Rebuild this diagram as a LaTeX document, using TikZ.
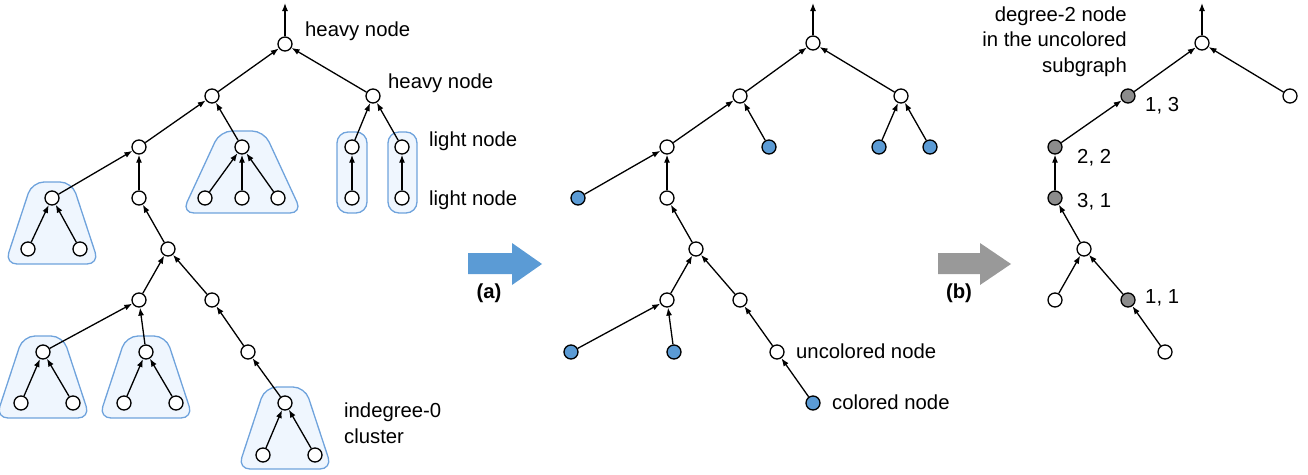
\documentclass[tikz,border=0pt]{standalone}
\usepackage{fontspec}
\setmainfont{Liberation Sans}
\usepackage{tikz}
\usetikzlibrary{arrows.meta}

\definecolor{nodeblue}{HTML}{5B9BD5}
\definecolor{nodegray}{HTML}{8C8C8C}
\definecolor{clusterfill}{HTML}{EFF6FE}
\definecolor{clusterline}{HTML}{6FA3DC}
\definecolor{arrowgray}{HTML}{999999}

\begin{document}
\begin{tikzpicture}[x=1pt,y=-1pt,
    vtx/.style={circle,draw,line width=1.3pt,fill=white,minimum size=14pt,inner sep=0pt},
    cvtx/.style={vtx,fill=nodeblue},
    gvtx/.style={vtx,fill=nodegray},
    edge/.style={line width=1.3pt,-{Latex[length=8pt,width=6pt]}},
    cluster/.style={draw=clusterline,fill=clusterfill,line width=1.3pt,rounded corners=12pt},
    lbl/.style={inner sep=0pt,font=\fontsize{20.3}{25.5}\selectfont}]
  \useasboundingbox (0,0) rectangle (1308,474);

  % left: clusters first
  \foreach \x/\y in {52/198, 43/352, 146/352, 285/403}
    \draw[cluster] (\x-20,\y-16) -- (\x+20,\y-16) -- (\x+47,\y+66) -- (\x-47,\y+66) -- cycle;
  \draw[cluster] (220,131) -- (264,131) -- (302,213) -- (182,213) -- cycle;
  \draw[cluster,rounded corners=11pt] (337,132) rectangle (367,213);
  \draw[cluster,rounded corners=11pt] (388,132) rectangle (417,213);

  % left tree
  \coordinate (ltop) at (285,3);
  \node[vtx] (lr) at (285,44) {};
  \node[vtx] (la) at (212,96) {};
  \node[vtx] (lb) at (373,96) {};
  \node[vtx] (lc) at (139,147) {};
  \node[vtx] (ld) at (242,147) {};
  \node[vtx] (ld1) at (205,198) {};
  \node[vtx] (ld2) at (242,198) {};
  \node[vtx] (ld3) at (278,198) {};
  \node[vtx] (lb1) at (352,147) {};
  \node[vtx] (lb2) at (402,147) {};
  \node[vtx] (lb1c) at (352,198) {};
  \node[vtx] (lb2c) at (402,198) {};
  \node[vtx] (le) at (52,198) {};
  \node[vtx] (le1) at (28,249) {};
  \node[vtx] (le2) at (80,249) {};
  \node[vtx] (lf) at (139,198) {};
  \node[vtx] (lg) at (168,249) {};
  \node[vtx] (lh) at (139,300) {};
  \node[vtx] (li) at (212,300) {};
  \node[vtx] (lj) at (43,352) {};
  \node[vtx] (lj1) at (21,403) {};
  \node[vtx] (lj2) at (73,403) {};
  \node[vtx] (lk) at (146,352) {};
  \node[vtx] (lk1) at (124,403) {};
  \node[vtx] (lk2) at (176,403) {};
  \node[vtx] (ll) at (248,352) {};
  \node[vtx] (lm) at (285,403) {};
  \node[vtx] (lm1) at (263,455) {};
  \node[vtx] (lm2) at (315,455) {};
  \draw[edge] (lr) -- (ltop);
  \foreach \c/\p in {la/lr, lb/lr, lc/la, ld/la, ld1/ld, ld2/ld, ld3/ld,
      lb1/lb, lb2/lb, lb1c/lb1, lb2c/lb2, le/lc, lf/lc, le1/le, le2/le,
      lg/lf, lh/lg, li/lg, lj/lh, lk/lh, lj1/lj, lj2/lj, lk1/lk, lk2/lk,
      ll/li, lm/ll, lm1/lm, lm2/lm}
    \draw[edge] (\c) -- (\p);

  \node[lbl,anchor=base west] (heavytop) at (305,36) {heavy node};
  \node[lbl,anchor=base west] (heavymid) at (388,88) {heavy node};
  \node[lbl,anchor=base west] (lightup) at (429,146) {light node};
  \node[lbl,anchor=base west] (lightlow) at (429,205) {light node};
  \node[lbl,anchor=base west,align=left] (indeg) at (344,443) {indegree-0\\cluster};

  % arrow (a)
  \fill[nodeblue] (468,253) -- (512,253) -- (512,243) -- (542,264) -- (512,285)
    -- (512,274) -- (468,274) -- cycle;
  \node[lbl,anchor=base,font=\fontsize{20.3}{25.5}\selectfont\bfseries] (stepa) at (489,298) {(a)};

  % middle tree
  \coordinate (mtop) at (813,3);
  \node[vtx] (mr) at (813,43) {};
  \node[vtx] (ma) at (740,96) {};
  \node[vtx] (mb) at (901,96) {};
  \node[vtx] (mc) at (667,147) {};
  \node[cvtx] (md) at (769,147) {};
  \node[cvtx] (mb1) at (879,147) {};
  \node[cvtx] (mb2) at (930,147) {};
  \node[cvtx] (me) at (578,198) {};
  \node[vtx] (mf) at (667,198) {};
  \node[vtx] (mg) at (696,249) {};
  \node[vtx] (mh) at (667,300) {};
  \node[vtx] (mi) at (740,300) {};
  \node[cvtx] (mh1) at (571,352) {};
  \node[cvtx] (mh2) at (674,352) {};
  \node[vtx] (ml) at (777,352) {};
  \node[cvtx] (mm) at (813,403) {};
  \draw[edge] (mr) -- (mtop);
  \foreach \c/\p in {ma/mr, mb/mr, mc/ma, md/ma, mb1/mb, mb2/mb, me/mc, mf/mc,
      mg/mf, mh/mg, mi/mg, mh1/mh, mh2/mh, ml/mi, mm/ml}
    \draw[edge] (\c) -- (\p);

  \node[lbl,anchor=base west] (uncol) at (796,358) {uncolored node};
  \node[lbl,anchor=base west] (col) at (832,409) {colored node};

  % arrow (b)
  \fill[arrowgray] (938,253) -- (980,253) -- (980,243) -- (1011,264) -- (980,285)
    -- (980,274) -- (938,274) -- cycle;
  \node[lbl,anchor=base,font=\fontsize{20.3}{25.5}\selectfont\bfseries] (stepb) at (959,298) {(b)};

  % right tree
  \coordinate (rtop) at (1202,3);
  \node[vtx] (rr) at (1202,43) {};
  \node[gvtx] (ra) at (1128,96) {};
  \node[vtx] (rb) at (1290,96) {};
  \node[gvtx] (rc) at (1055,147) {};
  \node[gvtx] (rf) at (1055,198) {};
  \node[vtx] (rg) at (1084,249) {};
  \node[vtx] (rh) at (1055,300) {};
  \node[gvtx] (ri) at (1128,300) {};
  \node[vtx] (rl) at (1165,352) {};
  \draw[edge] (rr) -- (rtop);
  \foreach \c/\p in {ra/rr, rb/rr, rc/ra, rf/rc, rg/rf, rh/rg, ri/rg, rl/ri}
    \draw[edge] (\c) -- (\p);

  \node[lbl,anchor=base west] (cnta) at (1145,111) {1, 3};
  \node[lbl,anchor=base west] (cntc) at (1077,163) {2, 2};
  \node[lbl,anchor=base west] (cntf) at (1077,207) {3, 1};
  \node[lbl,anchor=base west] (cnti) at (1145,303) {1, 1};
  \node[lbl,anchor=base east,align=right] (deg) at (1127,72) {degree-2 node\\in the uncolored\\subgraph};
\end{tikzpicture}
\end{document}
